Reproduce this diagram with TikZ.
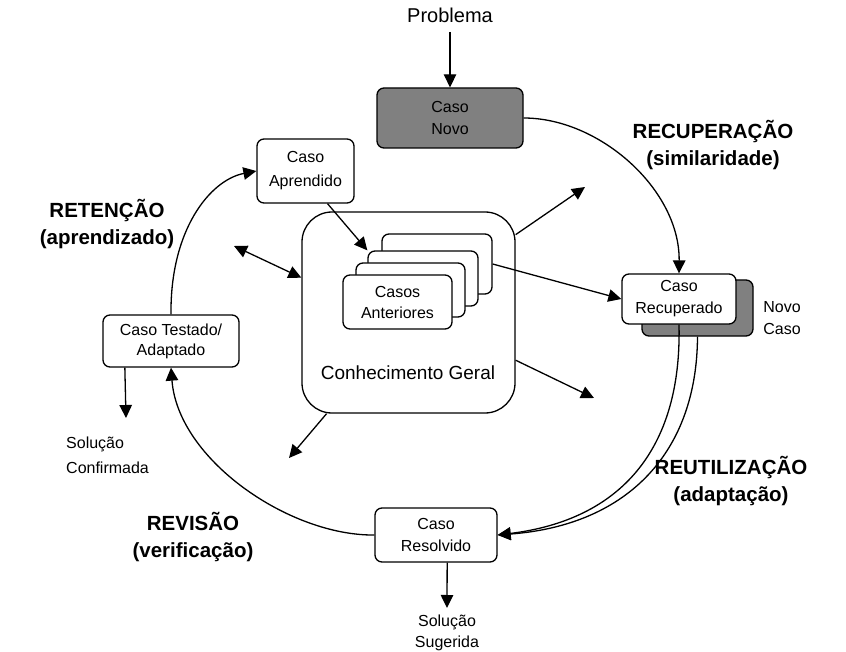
\documentclass[tikz,border=0pt]{standalone}
\usepackage{fontspec}
\setmainfont{Liberation Sans}
\usetikzlibrary{arrows.meta}
\begin{document}
\begin{tikzpicture}[x=1pt,y=-1pt,
  box/.style={draw,line width=1.3pt,rounded corners=7pt,align=center,inner sep=0pt,fill=white,font=\fontsize{16}{22}\selectfont},
  lbl/.style={align=center,inner sep=0pt,font=\fontsize{16}{22}\selectfont},
  phase/.style={align=center,inner sep=0pt,font=\bfseries\fontsize{20.5}{27}\selectfont},
  conn/.style={line width=1.3pt,-{Triangle[length=13pt,width=12.5pt]}},
  dconn/.style={line width=1.3pt,{Triangle[length=13pt,width=12.5pt]}-{Triangle[length=13pt,width=12.5pt]}}
]
\useasboundingbox (0,0) rectangle (846,652);

% texts
\node[lbl,font=\fontsize{20}{24}\selectfont] (prob) at (450,15) {Problema};
\coordinate (probend) at (450,32);

% boxes
\node[box,fill=gray,minimum width=146pt,minimum height=60pt] (novo) at (450,118) {Caso\\Novo};
\node[box,fill=gray,minimum width=111pt,minimum height=56pt] (shadow) at (697.5,308) {};
\node[box,minimum width=114pt,minimum height=50pt] (recup) at (679,299) {Caso\\Recuperado};
\node[lbl] (novocaso) at (782,318) {Novo\\Caso};
\node[box,minimum width=122pt,minimum height=54pt] (resolv) at (436,535) {Caso\\Resolvido};
\node[box,minimum width=136pt,minimum height=52pt,font=\fontsize{16}{20}\selectfont] (testado) at (171,341) {Caso Testado/\\Adaptado};
\node[box,minimum width=97pt,minimum height=64pt,font=\fontsize{16}{24}\selectfont] (aprend) at (305.5,171) {Caso\\Aprendido};

% knowledge box
\node[box,rounded corners=30pt,minimum width=213pt,minimum height=201pt] (kg) at (408.5,312.5) {};
\node[lbl,font=\fontsize{19}{23}\selectfont] (kgt) at (408,373) {Conhecimento Geral};
\node[box,minimum width=110pt,minimum height=60pt] (s4) at (437,264) {};
\node[box,minimum width=110pt,minimum height=55pt] (s3) at (423,278.5) {};
\node[box,minimum width=109pt,minimum height=54pt] (s2) at (410.5,290) {};
\node[box,minimum width=109pt,minimum height=54pt,font=\fontsize{16}{21}\selectfont] (s1) at (397.5,302) {Casos\\Anteriores};

% output texts
\node[lbl,font=\fontsize{16}{21}\selectfont] (sug) at (447,632.5) {Solução\\Sugerida};
\coordinate (sugend) at (447,608);
\node[lbl,anchor=west,align=left,font=\fontsize{16}{25}\selectfont] (conf) at (66,455.5) {Solução\\Confirmada};
\coordinate (confend) at (126,418);

% phase labels
\node[phase] (recl) at (713,145.5) {RECUPERAÇÃO\\(similaridade)};
\node[phase] (retl) at (107,224) {RETENÇÃO\\(aprendizado)};
\node[phase] (reul) at (731,481.5) {REUTILIZAÇÃO\\(adaptação)};
\node[phase] (revl) at (193,537.5) {REVISÃO\\(verificação)};

% free ends
\coordinate (fa) at (585,187);
\coordinate (fb) at (594,398);
\coordinate (fc) at (289,458);
\coordinate (fd) at (234,246);

% connectors
\draw[conn] (probend) -- (novo.north);
\draw[conn] (novo.east) .. controls (600,118) and (680,190) .. (recup.north);
\draw[conn] (recup.south) .. controls (682,450) and (620,520) .. (resolv.east);
\draw[conn] (shadow.south) .. controls (697,450) and (630,525) .. (resolv.east);
\draw[conn] (resolv.-68) -- (sugend);
\draw[conn] (resolv.west) .. controls (290,536) and (178,460) .. (testado.south);
\draw[conn] (testado.-150) -- (confend);
\draw[conn] (testado.north) .. controls (170,230) and (210,180) .. (aprend.west);
\draw[conn] (aprend.-56) -- (s3.north west);
\draw[conn] (s4.east) -- (recup.west);
\draw[dconn] (fd) -- (kg.162);
\draw[conn] (kg.36) -- (fa);
\draw[conn] (kg.-24) -- (fb);
\draw[conn] (kg.-129) -- (fc);
\end{tikzpicture}
\end{document}
